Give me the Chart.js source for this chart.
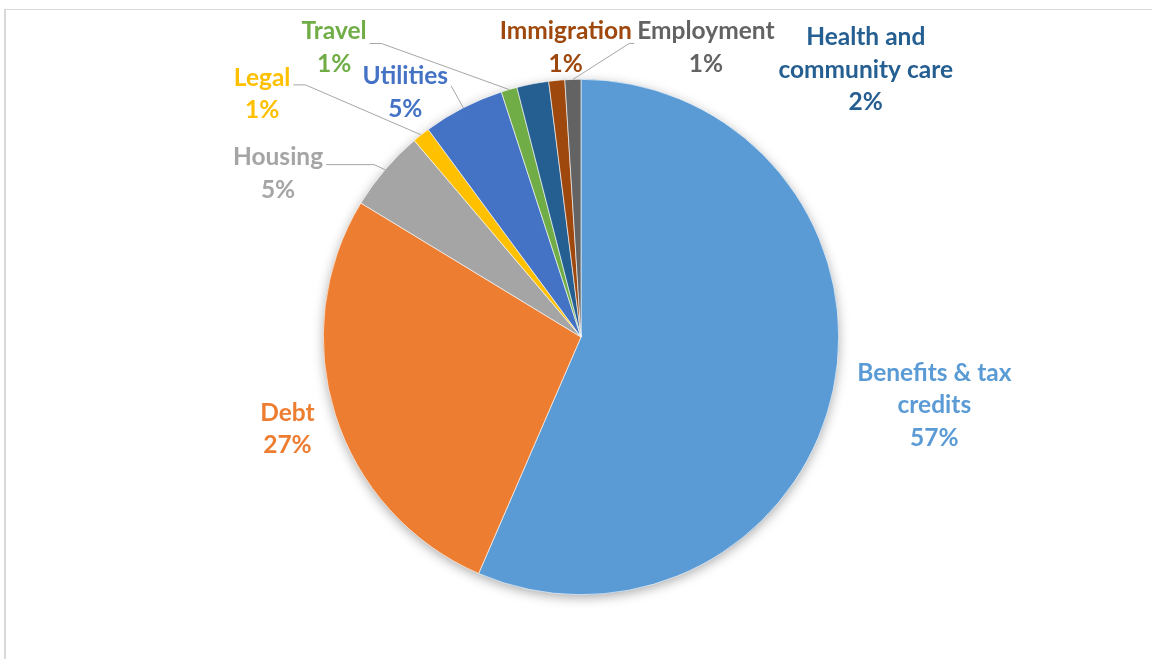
<!DOCTYPE html>
<html>
<head>
<meta charset="utf-8">
<script src="https://cdn.jsdelivr.net/npm/chart.js@4"></script>
<style>
  html, body { margin: 0; padding: 0; background: #fff; }
  .wrap { position: relative; width: 1152px; height: 659px; overflow: hidden; }
  .frame { position: absolute; left: 4px; top: 9px; right: -10px; bottom: -10px;
           border-left: 2px solid #d9d9d9; border-top: 1px solid #d9d9d9; }
  canvas { position: absolute; left: 0; top: 0; }
</style>
</head>
<body>
<div class="wrap">
  <div class="frame"></div>
  <canvas id="chartAdvice" width="1152" height="659"></canvas>
</div>
<script>
// advice categories, clockwise from 12 o'clock
const categories = ['Benefits & tax credits', 'Debt', 'Housing', 'Legal', 'Utilities',
                    'Travel', 'Health and community care', 'Immigration', 'Employment'];
const shares = [56.5, 27.2, 5.1, 1.1, 5.1, 1.0, 2.0, 1.0, 1.0];
const colours = ['#5B9BD5', '#ED7D31', '#A5A5A5', '#FFC000', '#4472C4',
                 '#70AD47', '#255E91', '#9E480E', '#636363'];

// label text split into lines
const labelLines = [
  ['Benefits & tax', 'credits'], ['Debt'], ['Housing'], ['Legal'], ['Utilities'],
  ['Travel'], ['Health and', 'community care'], ['Immigration'], ['Employment']
];
// label centre relative to the slice's outer mid point
const labelOffsets = [
  [101, 16], [-48, 14], [-107, 4], [-159, -41], [-58, -15],
  [-175, -42], [333, -14], [9, -33], [133, -32]
];
// leader lines: side of label, elbow length, start y relative to label centre
const leaders = [null, null, ['right', 48, -9], ['right', 12, -9], ['right', 0, -7],
                 ['right', 12, -4], null, null, ['left', 5, -4]];

const FONT = 'bold 24.5px Lato';
const LINE_H = 32.5;

const pieShadow = {
  id: 'pieShadow',
  beforeDatasetsDraw(chart) {
    const arc = chart.getDatasetMeta(0).data[0];
    if (!arc) return;
    const { ctx } = chart;
    ctx.save();
    ctx.shadowColor = 'rgba(0,0,0,0.35)';
    ctx.shadowBlur = 12;
    ctx.shadowOffsetY = 3;
    ctx.fillStyle = '#fff';
    ctx.beginPath();
    ctx.arc(arc.x, arc.y, arc.outerRadius - 0.5, 0, Math.PI * 2);
    ctx.fill();
    ctx.restore();
  }
};

const sliceLabels = {
  id: 'sliceLabels',
  afterDatasetsDraw(chart) {
    const { ctx } = chart;
    const meta = chart.getDatasetMeta(0);
    const total = shares.reduce((s, v) => s + v, 0);
    ctx.save();
    ctx.font = FONT;
    ctx.textAlign = 'center';
    ctx.textBaseline = 'middle';
    meta.data.forEach((arc, i) => {
      const mid = (arc.startAngle + arc.endAngle) / 2;
      const ex = arc.x + Math.cos(mid) * arc.outerRadius;
      const ey = arc.y + Math.sin(mid) * arc.outerRadius;
      const lx = ex + labelOffsets[i][0];
      const ly = ey + labelOffsets[i][1];
      const lines = [...labelLines[i], Math.round(shares[i] / total * 100) + '%'];
      const top = ly - (lines.length - 1) * LINE_H / 2;

      const ld = leaders[i];
      if (ld) {
        const w = ctx.measureText(lines[0]).width;
        const dir = ld[0] === 'right' ? 1 : -1;
        const sx = lx + dir * (w / 2 + 3);
        const sy = ly + ld[2];
        ctx.strokeStyle = '#a6a6a6';
        ctx.lineWidth = 1;
        ctx.beginPath();
        ctx.moveTo(sx, sy);
        ctx.lineTo(sx + dir * ld[1], sy);
        ctx.lineTo(ex, ey);
        ctx.stroke();
      }

      ctx.fillStyle = colours[i];
      lines.forEach((t, k) => ctx.fillText(t, lx, top + k * LINE_H));
    });
    ctx.restore();
  }
};

new Chart(document.getElementById('chartAdvice'), {
  type: 'pie',
  data: {
    labels: categories,
    datasets: [{
      data: shares,
      backgroundColor: colours,
      borderColor: '#ffffff',
      borderWidth: 0.6
    }]
  },
  options: {
    responsive: false,
    animation: false,
    layout: { padding: { left: 323, right: 313, top: 79, bottom: 64 } },
    plugins: { legend: { display: false }, tooltip: { enabled: false } }
  },
  plugins: [pieShadow, sliceLabels]
});
</script>
</body>
</html>
